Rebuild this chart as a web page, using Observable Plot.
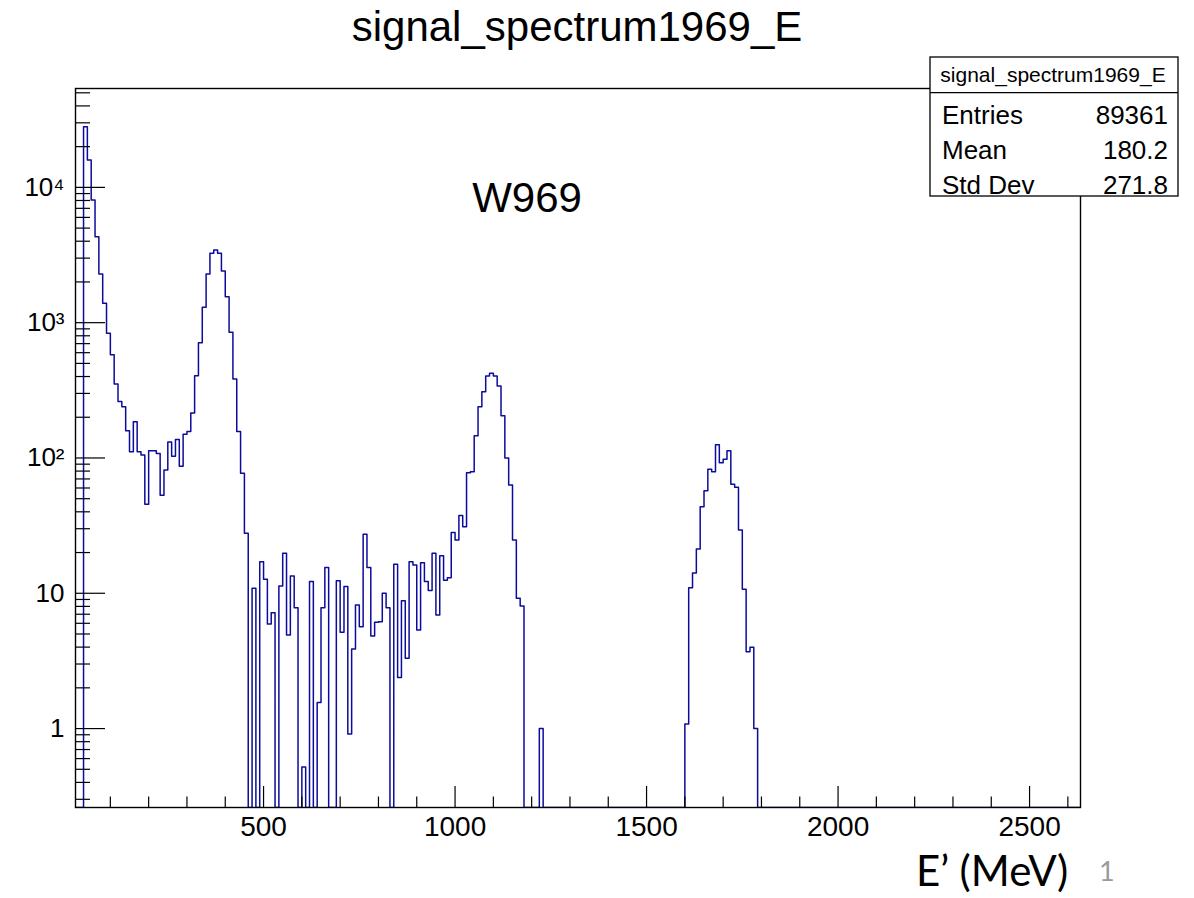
<!DOCTYPE html>
<html>
<head>
<meta charset="utf-8">
<script src="https://cdn.jsdelivr.net/npm/d3@7"></script>
<script src="https://cdn.jsdelivr.net/npm/@observablehq/plot@0.6"></script>
<style>
  html, body { margin: 0; padding: 0; background: #fff; }
  #wrap { position: relative; width: 1194px; height: 898px; overflow: hidden; }
  #wrap svg { position: absolute; left: 0; top: 0; }
</style>
</head>
<body>
<div id="wrap"></div>
<script>
// ---- data ----
const binWidth = 10;        // MeV
const firstBinLow = 10;     // MeV, low edge of first listed bin
// counts per 10 MeV bin, from 10 MeV to 1790 MeV (low edges)
const counts = [
  0, 0, 28100, 15950, 8070, 4320, 2290, 1390, 834, 580,
  352, 261, 239, 159, 111, 185, 111, 105, 45.5, 113,
  113, 108, 53, 81.5, 131, 103, 137, 87, 150, 157,
  215, 406, 711, 1300, 2290, 3260, 3445, 3260, 2410, 1556,
  849, 384, 157, 77, 27.8, 0, 10.9, 0, 17.1, 12.7,
  5.93, 7.19, 0, 11.3, 19.8, 4.92, 13.4, 7.83, 0, 0.52,
  0, 12.2, 0, 1.56, 7.83, 15.5, 0, 0, 12.4, 5.15,
  11.2, 0.91, 3.88, 8.2, 5.66, 27.3, 15.5, 4.83, 6.1, 6.17,
  10, 7.83, 0, 16.4, 2.38, 8.8, 3.31, 17.1, 16.2, 5.35,
  16.8, 12.2, 10.5, 19.8, 6.91, 18.9, 12.5, 13.0, 28.1, 24.8,
  37.5, 31, 77.8, 79, 146, 239, 309, 404, 423, 404,
  341, 205, 100, 63, 24.8, 9.19, 8.06, 0, 0, 0,
  0, 1, 0, 0, 0, 0, 0, 0, 0, 0,
  0, 0, 0, 0, 0, 0, 0, 0, 0, 0,
  0, 0, 0, 0, 0, 0, 0, 0, 0, 0,
  0, 0, 0, 0, 0, 0, 0, 0, 0, 1.08,
  11, 14.1, 21.2, 43.6, 57.3, 82.5, 79, 125, 92, 98,
  113, 64, 60.7, 29.4, 10.7, 3.7, 3.99, 1.0
];
const xDomain = [9, 2633];
const yDomain = [0.261, 53800];
const xMajor = [500, 1000, 1500, 2000, 2500];
const xTickLabels = ["500", "1000", "1500", "2000", "2500"];
const xMinor = [100, 200, 300, 400, 600, 700, 800, 900, 1100, 1200, 1300, 1400,
                1600, 1700, 1800, 1900, 2100, 2200, 2300, 2400, 2600];
const yMajor = [1, 10, 100, 1000, 10000];
const yTickLabels = ["1", "10", "10\u00B2", "10\u00B3", "10\u2074"];
const yMinor = [0.3, 0.4, 0.5, 0.6, 0.7, 0.8, 0.9,
                2, 3, 4, 5, 6, 7, 8, 9,
                20, 30, 40, 50, 60, 70, 80, 90,
                200, 300, 400, 500, 600, 700, 800, 900,
                2000, 3000, 4000, 5000, 6000, 7000, 8000, 9000,
                20000, 30000, 40000, 50000];
const statsTitle = "signal_spectrum1969_E";
const statsRows = [["Entries", "89361"], ["Mean", "180.2"], ["Std Dev", "271.8"]];

// ---- build table ----
const hist = counts.map((c, i) => ({e: firstBinLow + i * binWidth, c}));
hist.push({e: firstBinLow + counts.length * binWidth, c: 0});
hist.push({e: xDomain[1], c: 0});

const W = 1194, H = 898;
const mL = 75, mR = 114, mT = 88, mB = 91;
const frameW = W - mL - mR, frameH = H - mT - mB;

const chart = Plot.plot({
  width: W, height: H,
  marginLeft: mL, marginRight: mR, marginTop: mT, marginBottom: mB,
  style: {background: "white", fontFamily: "'Liberation Sans', Arial, Helvetica, sans-serif", color: "black"},
  x: {type: "linear", domain: xDomain},
  y: {type: "log", domain: yDomain},
  marks: [
    Plot.line(hist, {x: "e", y: d => Math.max(d.c, yDomain[0]), curve: "step-after",
      stroke: "#0c0c9c", strokeWidth: 1.5, clip: true}),
    Plot.frame({stroke: "black", strokeWidth: 1.4}),
    Plot.tickX(xMinor, {x: d => d, stroke: "black", strokeWidth: 1.2, insetTop: frameH - 10.5}),
    Plot.tickX(xMajor, {x: d => d, stroke: "black", strokeWidth: 1.2, insetTop: frameH - 21}),
    Plot.tickY(yMinor, {y: d => d, stroke: "black", strokeWidth: 1.2, insetRight: frameW - 15}),
    Plot.tickY(yMajor, {y: d => d, stroke: "black", strokeWidth: 1.2, insetRight: frameW - 30}),
    Plot.axisX({ticks: xMajor, tickSize: 0, tickPadding: 9, fontSize: 28, label: null,
      tickFormat: d => xTickLabels[xMajor.indexOf(d)]}),
    Plot.axisY({ticks: yMajor, tickSize: 0, tickPadding: 11, fontSize: 26, label: null,
      tickFormat: d => yTickLabels[yMajor.indexOf(d)]})
  ]
});
document.getElementById("wrap").appendChild(chart);

// ---- overlay texts (title, stats box, annotations) ----
const ns = "http://www.w3.org/2000/svg";
const ov = document.createElementNS(ns, "svg");
ov.setAttribute("width", W); ov.setAttribute("height", H);
ov.setAttribute("viewBox", `0 0 ${W} ${H}`);
function el(tag, attrs, text) {
  const e = document.createElementNS(ns, tag);
  for (const k in attrs) e.setAttribute(k, attrs[k]);
  if (text != null) e.textContent = text;
  ov.appendChild(e);
  return e;
}
const helv = "'Liberation Sans', Arial, Helvetica, sans-serif";
el("text", {x: 577, y: 41, "text-anchor": "middle", "font-size": 42, "font-family": helv}, "signal_spectrum1969_E");
el("rect", {x: 930, y: 57, width: 248, height: 139, fill: "white", stroke: "black", "stroke-width": 1.3});
el("line", {x1: 930, x2: 1178, y1: 92.7, y2: 92.7, stroke: "black", "stroke-width": 1.3});
el("text", {x: 1053, y: 82, "text-anchor": "middle", "font-size": 21, "font-family": helv}, statsTitle);
statsRows.forEach(([k, v], i) => {
  const y = 124 + i * 35;
  el("text", {x: 942, y, "font-size": 26, "font-family": helv}, k);
  el("text", {x: 1168, y, "text-anchor": "end", "font-size": 26, "font-family": helv}, v);
});
el("text", {x: 527, y: 212, "text-anchor": "middle", "font-size": 42, "font-family": helv}, "W969");
el("text", {x: 916, y: 886, "font-size": 42, "font-family": "Lato, 'Open Sans', sans-serif"}, "E\u2019 (MeV)");
el("text", {x: 1099, y: 881, "font-size": 27, fill: "#9a9a9a", "font-family": "Lato, 'Open Sans', sans-serif"}, "1");
document.getElementById("wrap").appendChild(ov);
</script>
</body>
</html>
